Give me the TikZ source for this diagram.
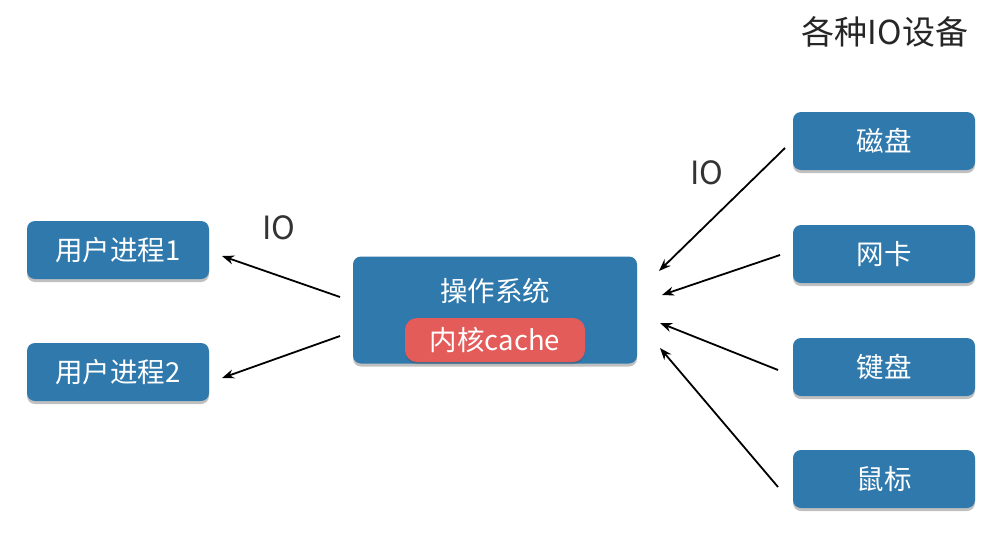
\documentclass[tikz,border=0pt]{standalone}
\usepackage{fontspec}
\setmainfont{Noto Sans CJK SC}
\usetikzlibrary{arrows.meta,shadows}
\definecolor{boxblue}{RGB}{47,121,173}
\definecolor{boxred}{RGB}{228,92,90}
\tikzset{
  bluebox/.style={fill=boxblue, rounded corners=8pt, minimum width=182pt, minimum height=58pt,
    text=white, font=\fontsize{27.5}{32}\selectfont, inner sep=0pt,
    drop shadow={shadow xshift=0pt, shadow yshift=-3pt, opacity=0.35, fill=black!70}},
  redbox/.style={fill=boxred, rounded corners=12pt, minimum width=180pt, minimum height=44pt,
    text=white, font=\fontsize{27.5}{32}\selectfont, inner sep=0pt,
    drop shadow={shadow xshift=0pt, shadow yshift=-2pt, opacity=0.3, fill=black!70}},
  iolabel/.style={font=\fontsize{32}{36}\selectfont, text=black!80, inner sep=0pt},
  arr/.style={draw=black, line width=1.8pt, -{Stealth[length=12pt,width=9pt]}}
}
\begin{document}
\begin{tikzpicture}[x=1pt,y=-1pt]
\useasboundingbox (0,0) rectangle (1000,539);
\fill[white] (0,0) rectangle (1000,539);
% left
\node[bluebox] (p1) at (118,250) {用户进程1};
\node[bluebox] (p2) at (118,372) {用户进程2};
% center
\node[bluebox, minimum width=284pt, minimum height=107pt] (os) at (495,310) {};
\node[text=white, font=\fontsize{27.5}{32}\selectfont, inner sep=0pt] (ostext) at (495,291) {操作系统};
\node[redbox] (cache) at (495,340) {内核cache};
% right
\node[bluebox] (d1) at (884,141) {磁盘};
\node[bluebox] (d2) at (884,254) {网卡};
\node[bluebox] (d3) at (884,367) {键盘};
\node[bluebox] (d4) at (884,479) {鼠标};
% labels
\node[font=\fontsize{33}{38}\selectfont, text=black!85, inner sep=0pt] (title) at (885,32) {各种IO设备};
\node[iolabel] (io1) at (279,228) {IO};
\node[iolabel] (io2) at (707,173) {IO};
% arrow end points
\coordinate (a1s) at (340,297); \coordinate (a1e) at (222,256);
\coordinate (a2s) at (340,336); \coordinate (a2e) at (222,378);
\coordinate (b1s) at (785,148); \coordinate (b1e) at (659,271);
\coordinate (b2s) at (780,255); \coordinate (b2e) at (662,295);
\coordinate (b3s) at (778,370); \coordinate (b3e) at (660,323);
\coordinate (b4s) at (778,487); \coordinate (b4e) at (660,348);
\draw[arr] (a1s) -- (a1e);
\draw[arr] (a2s) -- (a2e);
\draw[arr] (b1s) -- (b1e);
\draw[arr] (b2s) -- (b2e);
\draw[arr] (b3s) -- (b3e);
\draw[arr] (b4s) -- (b4e);
\end{tikzpicture}
\end{document}
